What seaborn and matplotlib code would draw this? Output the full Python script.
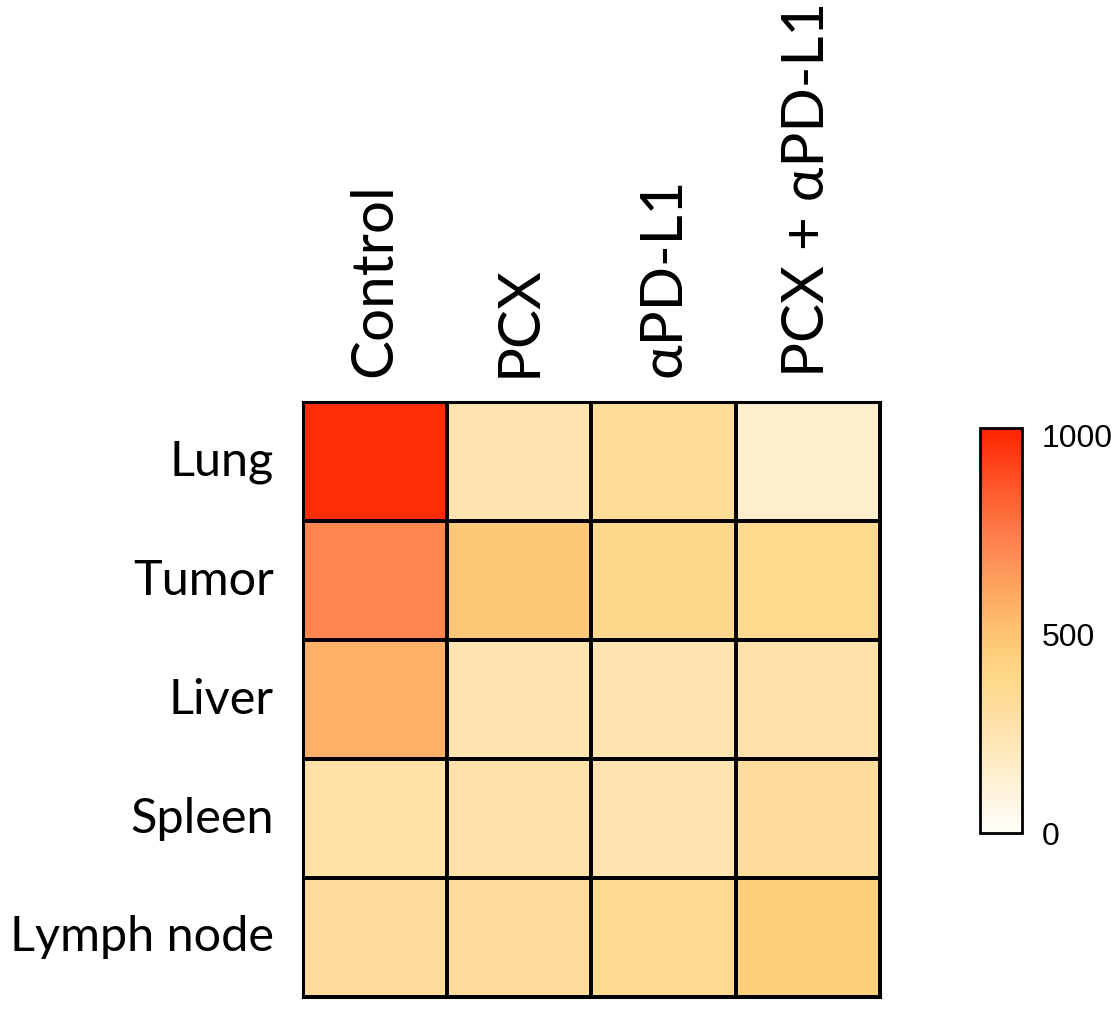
import numpy as np
import pandas as pd
import seaborn as sns
import matplotlib.pyplot as plt
from matplotlib.colors import LinearSegmentedColormap

# values
tissues = ["Lung", "Tumor", "Liver", "Spleen", "Lymph node"]
groups = ["Control", "PCX", "αPD-L1", "PCX + αPD-L1"]
control = [990, 720, 570, 280, 320]
pcx = [250, 470, 250, 270, 320]
apdl1 = [330, 380, 245, 250, 360]
pcx_apdl1 = [150, 370, 270, 320, 440]
cbar_ticks = [0, 500, 1000]

df = pd.DataFrame(
    np.array([control, pcx, apdl1, pcx_apdl1]).T,
    index=tissues,
    columns=groups,
)

cmap = LinearSegmentedColormap.from_list(
    "prism_orange",
    [
        (0.0, "#FFFEFA"),
        (0.25, "#FEE3AE"),
        (0.4, "#FED684"),
        (0.5, "#FCC272"),
        (0.62, "#FEA05E"),
        (0.75, "#FF7A47"),
        (1.0, "#FF2500"),
    ],
)

sns.set_style("white")
plt.rcParams["font.family"] = ["Lato", "DejaVu Sans"]
plt.rcParams["text.color"] = "black"
plt.rcParams["xtick.color"] = "black"
plt.rcParams["ytick.color"] = "black"

fig = plt.figure(figsize=(11.16, 10.10), dpi=100)
ax = fig.add_axes([0.2715, 0.0129, 0.517, 0.589])
cax = fig.add_axes([0.878, 0.175, 0.038, 0.401])

sns.heatmap(
    df,
    ax=ax,
    cbar_ax=cax,
    cmap=cmap,
    vmin=0,
    vmax=1018,
    linewidths=1.5,
    linecolor="black",
    cbar_kws={"ticks": cbar_ticks},
)

ax.xaxis.tick_top()
ax.set_xticklabels(groups, rotation=90, fontsize=42, va="bottom")
ax.set_yticklabels(tissues, rotation=0, fontsize=35)
ax.tick_params(length=0, pad=18)
ax.tick_params(axis="y", pad=21)
for s in ax.spines.values():
    s.set_visible(True)
    s.set_linewidth(2.2)
    s.set_color("black")

cax.tick_params(direction="in", left=True, right=True, length=5, width=1.5,
                labelsize=23, pad=14)
for lab in cax.get_yticklabels():
    lab.set_family(["Liberation Sans", "DejaVu Sans"])
cbar = ax.collections[0].colorbar
cbar.outline.set_visible(True)
cbar.outline.set_linewidth(2)
cbar.outline.set_edgecolor("black")

fig.savefig("out.png", dpi=100)
